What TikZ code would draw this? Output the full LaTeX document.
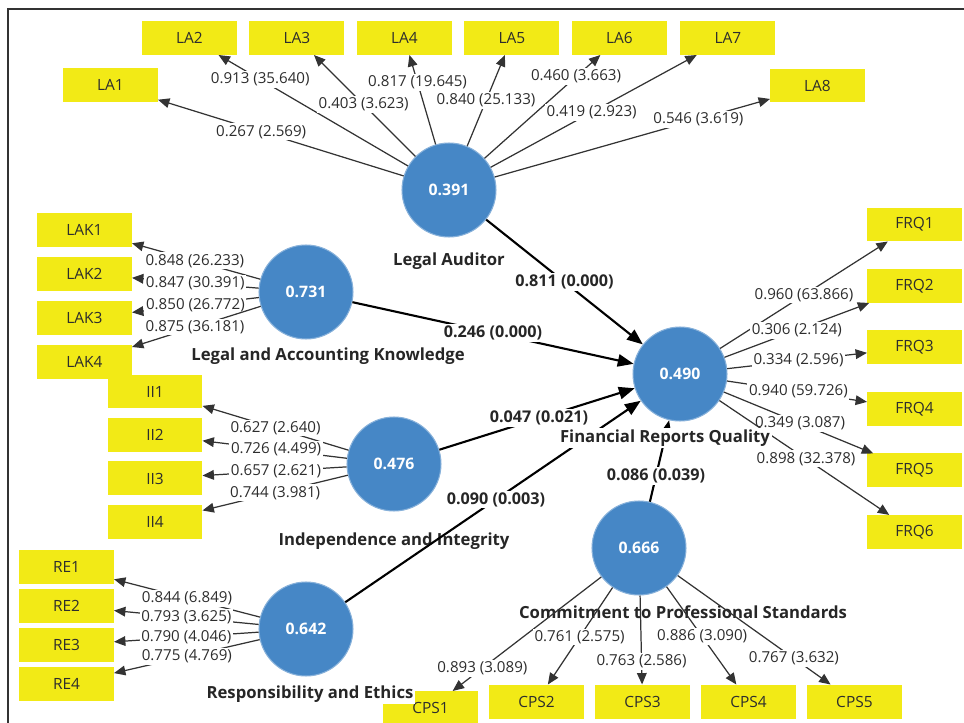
\documentclass[tikz,border=0pt]{standalone}
\usepackage{fontspec}
\setmainfont{Open Sans}
\usetikzlibrary{arrows.meta, positioning}
\definecolor{plsblue}{RGB}{70,135,198}
\definecolor{plsyellow}{RGB}{242,234,22}
\definecolor{plstext}{RGB}{45,45,45}

\begin{document}
\begin{tikzpicture}[
  x=0.02cm, y=-0.02cm,
  ind/.style={rectangle, fill=plsyellow, minimum width=1.9cm, minimum height=0.68cm,
              inner sep=0pt, outer sep=0pt, text=plstext,
              font=\fontsize{8.8}{10}\selectfont},
  lv/.style={circle, fill=plsblue, draw=plsblue!65!white, line width=0.6pt,
             minimum size=1.88cm, inner sep=0pt, text=white,
             font=\bfseries\fontsize{9}{10}\selectfont},
  lvname/.style={fill=white, inner sep=1pt, text=black!85,
                 font=\bfseries\fontsize{9.5}{11}\selectfont},
  load/.style={-{Triangle[length=6.5pt,width=5.5pt]}, line width=0.7pt, draw=black!80},
  lbl/.style={fill=white, inner sep=1pt, text=plstext, font=\fontsize{8.6}{10}\selectfont},
  structarr/.style={-{Triangle[length=9pt,width=7pt]}, line width=1.2pt, draw=black},
  coef/.style={fill=white, inner sep=1pt, text=black!85,
               font=\bfseries\fontsize{9.2}{10}\selectfont}
]
\useasboundingbox (0,0) rectangle (964,723);
\draw[line width=0.8pt, black!80] (8,723) -- (8,9) -- (964,9);

%% Indicators
\node[ind] (la1) at (110.5,85) {LA1};
\node[ind] (la2) at (189.5,38) {LA2};
\node[ind, right=0.25cm of la2] (la3) {LA3};
\node[ind, right=0.25cm of la3] (la4) {LA4};
\node[ind, right=0.25cm of la4] (la5) {LA5};
\node[ind, right=0.25cm of la5] (la6) {LA6};
\node[ind, right=0.27cm of la6] (la7) {LA7};
\node[ind] (la8) at (817.5,85.5) {LA8};

\node[ind] (lak1) at (84.5,230) {LAK1};
\node[ind, below=0.2cm of lak1] (lak2) {LAK2};
\node[ind, below=0.2cm of lak2] (lak3) {LAK3};
\node[ind, below=0.2cm of lak3] (lak4) {LAK4};

\node[ind] (ii1) at (155,391.5) {II1};
\node[ind, below=0.19cm of ii1] (ii2) {II2};
\node[ind, below=0.19cm of ii2] (ii3) {II3};
\node[ind, below=0.19cm of ii3] (ii4) {II4};

\node[ind] (re1) at (66.5,567) {RE1};
\node[ind, below=0.1cm of re1] (re2) {RE2};
\node[ind, below=0.1cm of re2] (re3) {RE3};
\node[ind, below=0.1cm of re3] (re4) {RE4};

\node[ind] (frq1) at (914.5,224.5) {FRQ1};
\node[ind, below=0.55cm of frq1] (frq2) {FRQ2};
\node[ind, below=0.55cm of frq2] (frq3) {FRQ3};
\node[ind, below=0.55cm of frq3] (frq4) {FRQ4};
\node[ind, below=0.55cm of frq4] (frq5) {FRQ5};
\node[ind, below=0.55cm of frq5] (frq6) {FRQ6};

\node[ind] (cps1) at (430.5,708) {CPS1};
\node[ind] (cps2) at (536.5,701.5) {CPS2};
\node[ind, right=0.22cm of cps2] (cps3) {CPS3};
\node[ind, right=0.22cm of cps3] (cps4) {CPS4};
\node[ind, right=0.22cm of cps4] (cps5) {CPS5};

%% Latent variables
\node[lv] (la)  at (449,190) {0.391};
\node[lv] (lak) at (306,292) {0.731};
\node[lv] (ii)  at (394,464) {0.476};
\node[lv] (re)  at (306,629) {0.642};
\node[lv] (frq) at (680,374) {0.490};
\node[lv] (cps) at (639,548) {0.666};

\node[lvname] (la-name)  at (449,261) {Legal Auditor};
\node[lvname] (lak-name) at (328,356) {Legal and Accounting Knowledge};
\node[lvname] (ii-name)  at (394,541) {Independence and Integrity};
\node[lvname] (re-name)  at (310,694) {Responsibility and Ethics};
\node[lvname] (cps-name) at (683,612) {Commitment to Professional Standards};

%% Outer loadings
\draw[load] (la) -- node[lbl, pos=0.58] {0.267 (2.569)} (la1);
\draw[load] (la) -- node[lbl, pos=0.78] {0.913 (35.640)} (la2);
\draw[load] (la) -- node[lbl, pos=0.51] {0.403 (3.623)} (la3);
\draw[load] (la) -- node[lbl, pos=0.69] {0.817 (19.645)} (la4);
\draw[load] (la) -- node[lbl, pos=0.50] {0.840 (25.133)} (la5);
\draw[load] (la) -- node[lbl, pos=0.79] {0.460 (3.663)} (la6);
\draw[load] (la) -- node[lbl, pos=0.49] {0.419 (2.923)} (la7);
\draw[load] (la) -- node[lbl, pos=0.74] {0.546 (3.619)} (la8);

\draw[load] (lak) -- node[lbl, pos=0.51] {0.848 (26.233)} (lak1);
\draw[load] (lak) -- node[lbl, pos=0.50] {0.847 (30.391)} (lak2);
\draw[load] (lak) -- node[lbl, pos=0.50] {0.850 (26.772)} (lak3);
\draw[load] (lak) -- node[lbl, pos=0.51] {0.875 (36.181)} (lak4);

\draw[load] (ii) -- node[lbl, pos=0.50] {0.627 (2.640)} (ii1);
\draw[load] (ii) -- node[lbl, pos=0.49] {0.726 (4.499)} (ii2);
\draw[load] (ii) -- node[lbl, pos=0.49] {0.657 (2.621)} (ii3);
\draw[load] (ii) -- node[lbl, pos=0.50] {0.744 (3.981)} (ii4);

\draw[load] (re) -- node[lbl, pos=0.50] {0.844 (6.849)} (re1);
\draw[load] (re) -- node[lbl, pos=0.50] {0.793 (3.625)} (re2);
\draw[load] (re) -- node[lbl, pos=0.50] {0.790 (4.046)} (re3);
\draw[load] (re) -- node[lbl, pos=0.50] {0.775 (4.769)} (re4);

\draw[load] (frq) -- node[lbl, pos=0.50] {0.960 (63.866)} (frq1);
\draw[load] (frq) -- node[lbl, pos=0.50] {0.306 (2.124)} (frq2);
\draw[load] (frq) -- node[lbl, pos=0.51] {0.334 (2.596)} (frq3);
\draw[load] (frq) -- node[lbl, pos=0.51] {0.940 (59.726)} (frq4);
\draw[load] (frq) -- node[lbl, pos=0.51] {0.349 (3.087)} (frq5);
\draw[load] (frq) -- node[lbl, pos=0.51] {0.898 (32.378)} (frq6);

\draw[load] (cps) -- node[lbl, pos=0.80] {0.893 (3.089)} (cps1);
\draw[load] (cps) -- node[lbl, pos=0.51] {0.761 (2.575)} (cps2);
\draw[load] (cps) -- node[lbl, pos=0.74] {0.763 (2.586)} (cps3);
\draw[load] (cps) -- node[lbl, pos=0.51] {0.886 (3.090)} (cps4);
\draw[load] (cps) -- node[lbl, pos=0.76] {0.767 (3.632)} (cps5);

%% Path coefficients
\draw[structarr] (la)  -- node[coef, pos=0.50] {0.811 (0.000)} (frq);
\draw[structarr] (lak) -- node[coef, pos=0.50] {0.246 (0.000)} (frq);
\draw[structarr] (ii)  -- node[coef, pos=0.51] {0.047 (0.021)} (frq);
\draw[structarr] (re)  -- node[coef, pos=0.51] {0.090 (0.003)} (frq);
\draw[structarr] (cps) -- node[coef, pos=0.32] {0.086 (0.039)} (frq);

\node[lvname] (frq-name) at (665,438) {Financial Reports Quality};
\end{tikzpicture}
\end{document}
